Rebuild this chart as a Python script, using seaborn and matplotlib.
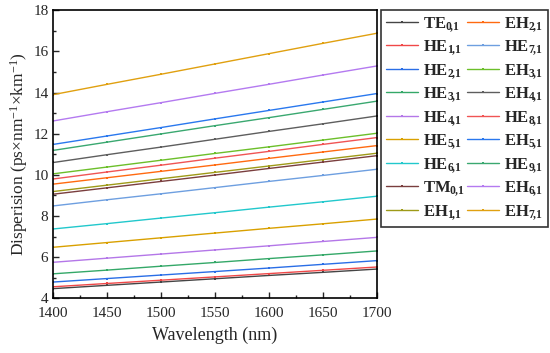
import matplotlib
matplotlib.use('Agg')
import matplotlib.pyplot as plt
from matplotlib.ticker import MultipleLocator
import pandas as pd
import seaborn as sns

wavelength = [1400, 1450, 1500, 1550, 1600, 1650, 1700]

# modes in legend order (column-wise)
modes = ['TE_{0,1}', 'HE_{1,1}', 'HE_{2,1}', 'HE_{3,1}', 'HE_{4,1}', 'HE_{5,1}',
         'HE_{6,1}', 'TM_{0,1}', 'EH_{1,1}', 'EH_{2,1}', 'HE_{7,1}', 'EH_{3,1}',
         'EH_{4,1}', 'HE_{8,1}', 'EH_{5,1}', 'HE_{9,1}', 'EH_{6,1}', 'EH_{7,1}']

te01 = [4.47, 4.63, 4.79, 4.95, 5.11, 5.26, 5.42]
he11 = [4.56, 4.72, 4.88, 5.04, 5.20, 5.36, 5.52]
he21 = [4.79, 4.96, 5.13, 5.30, 5.47, 5.65, 5.83]
he31 = [5.19, 5.37, 5.56, 5.74, 5.93, 6.11, 6.30]
he41 = [5.75, 5.95, 6.15, 6.35, 6.55, 6.76, 6.96]
he51 = [6.48, 6.71, 6.94, 7.17, 7.40, 7.62, 7.85]
he61 = [7.37, 7.63, 7.90, 8.16, 8.43, 8.69, 8.96]
tm01 = [9.06, 9.37, 9.68, 9.99, 10.31, 10.62, 10.93]
eh11 = [9.19, 9.50, 9.81, 10.12, 10.43, 10.74, 11.05]
eh21 = [9.55, 9.86, 10.17, 10.48, 10.80, 11.11, 11.42]
he71 = [8.49, 8.79, 9.08, 9.38, 9.68, 9.97, 10.27]
eh31 = [10.05, 10.38, 10.71, 11.04, 11.36, 11.69, 12.02]
eh41 = [10.60, 10.98, 11.35, 11.73, 12.11, 12.48, 12.86]
he81 = [9.80, 10.14, 10.47, 10.81, 11.14, 11.48, 11.81]
eh51 = [11.48, 11.89, 12.30, 12.72, 13.13, 13.54, 13.95]
he91 = [11.19, 11.59, 11.99, 12.39, 12.78, 13.18, 13.58]
eh61 = [12.62, 13.07, 13.51, 13.96, 14.40, 14.85, 15.29]
eh71 = [13.90, 14.40, 14.89, 15.39, 15.89, 16.39, 16.88]

values = [te01, he11, he21, he31, he41, he51, he61, tm01, eh11,
          eh21, he71, eh31, eh41, he81, eh51, he91, eh61, eh71]

colors = ['#454545', '#f04848', '#2a6ee6', '#34a868', '#b477e8', '#d9a000',
          '#22c8cc', '#7a3e3e', '#9e9a18', '#ff6a10', '#6e9fe0', '#6cbf2a',
          '#5e5e5e', '#f05454', '#2a78ee', '#3aa870', '#b47af0', '#e0a010']

labels = [r'$\mathbf{' + m.split('_')[0] + r'}_{\mathbf{' + m.split('_')[1][1:-1].replace(',', r'\!,\!') + '}}$'
          for m in modes]

rows = []
for lab, vals in zip(labels, values):
    for w, v in zip(wavelength, vals):
        rows.append({'Wavelength': w, 'D': v, 'mode': lab})
df = pd.DataFrame(rows)

sns.set_style('ticks')
plt.rcParams['font.family'] = ['Liberation Serif', 'DejaVu Serif']
plt.rcParams['mathtext.fontset'] = 'custom'
plt.rcParams['mathtext.rm'] = 'Liberation Serif'
plt.rcParams['mathtext.bf'] = 'Liberation Serif:bold'
plt.rcParams['mathtext.it'] = 'Liberation Serif:italic'

fig = plt.figure(figsize=(5.5, 3.53), dpi=100)
ax = fig.add_axes([0.097, 0.155, 0.588, 0.816])

sns.lineplot(data=df, x='Wavelength', y='D', hue='mode', hue_order=labels,
             palette=dict(zip(labels, colors)), marker='s', markersize=2,
             markeredgewidth=0, linewidth=1.0, ax=ax)

ax.set_xlim(1400, 1700)
ax.set_ylim(4, 18)
ax.xaxis.set_major_locator(MultipleLocator(50))
ax.xaxis.set_minor_locator(MultipleLocator(25))
ax.yaxis.set_major_locator(MultipleLocator(2))
ax.yaxis.set_minor_locator(MultipleLocator(1))
ax.tick_params(which='both', direction='in', labelsize=11, top=False, right=False)
ax.tick_params(which='major', length=4, width=1)
ax.tick_params(which='minor', length=2.5, width=1)
ax.tick_params(axis='x', pad=6)
for s in ax.spines.values():
    s.set_linewidth(1.2)
    s.set_color('black')
ax.set_xlabel('Wavelength (nm)', fontsize=13, labelpad=5)
ax.set_ylabel(r'Disperision (ps$\times$nm$^{-1}$$\times$km$^{-1}$)', fontsize=12.5, labelpad=2)

leg = ax.legend(ncol=2, loc='upper left', bbox_to_anchor=(1.013, 1.001),
                frameon=True, fancybox=False, fontsize=12, handlelength=1.9,
                handletextpad=0.3, columnspacing=0.15, labelspacing=0.27,
                borderpad=0.3, borderaxespad=0)
leg.get_frame().set_edgecolor('black')
leg.get_frame().set_linewidth(1.2)

fig.savefig('out.png', dpi=100)
